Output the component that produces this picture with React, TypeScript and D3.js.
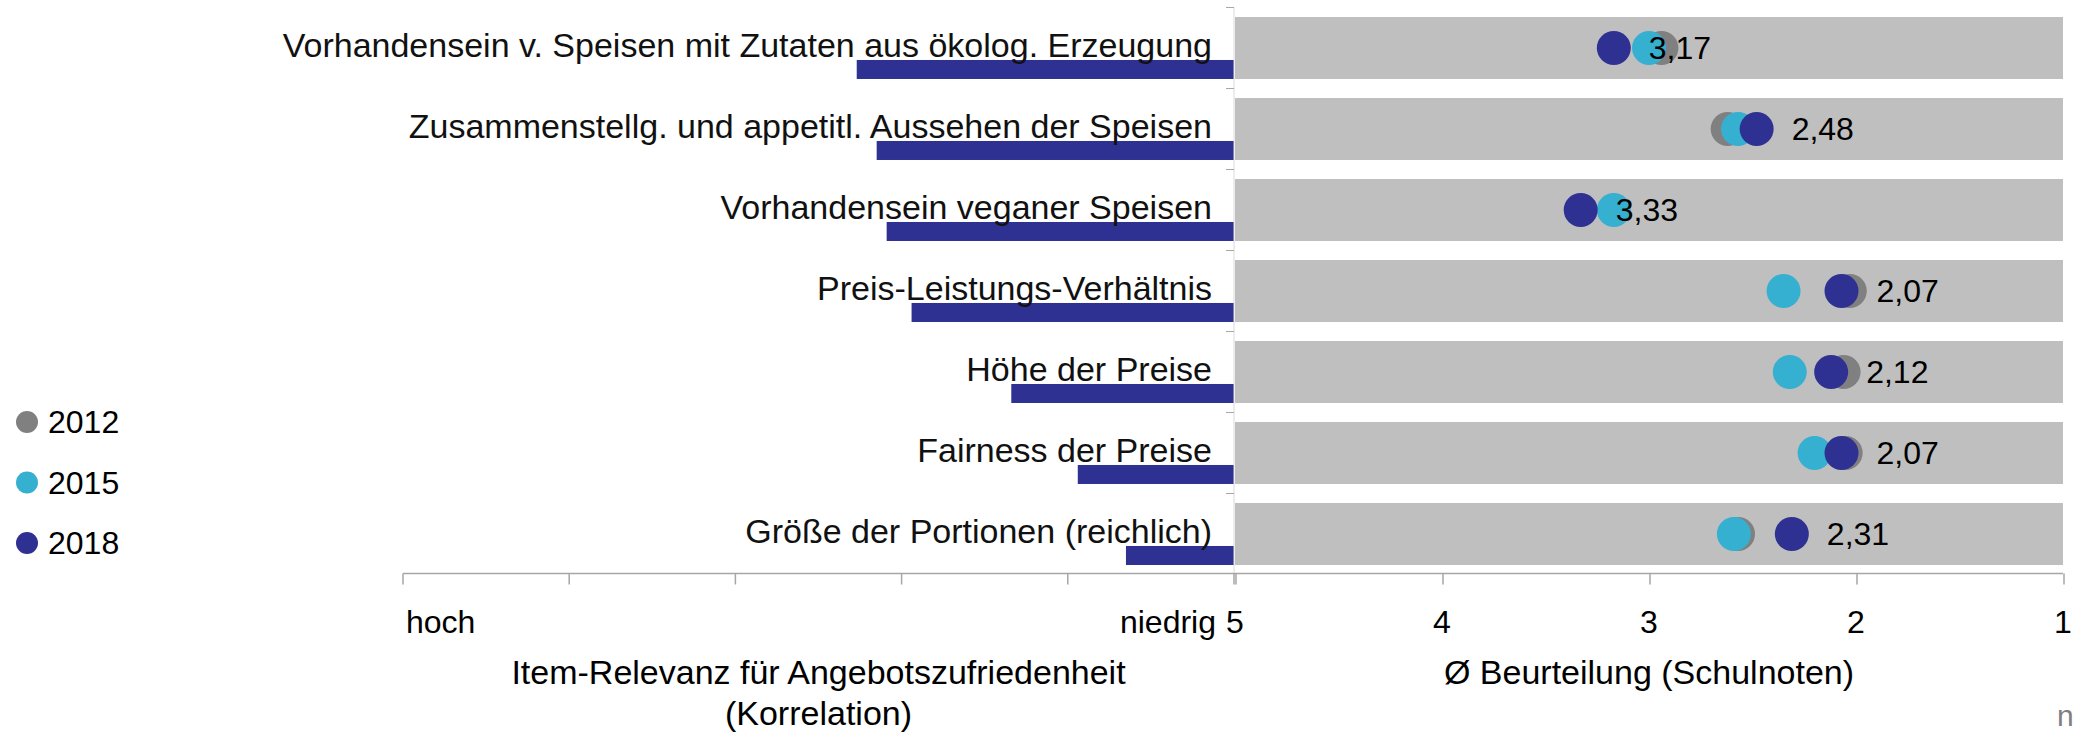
import * as d3 from "d3";

const categories = [
  "Vorhandensein v. Speisen mit Zutaten aus ökolog. Erzeugung",
  "Zusammenstellg. und appetitl. Aussehen der Speisen",
  "Vorhandensein veganer Speisen",
  "Preis-Leistungs-Verhältnis",
  "Höhe der Preise",
  "Fairness der Preise",
  "Größe der Portionen (reichlich)",
];

// Korrelation (Item-Relevanz)
const relevance = [0.227, 0.215, 0.209, 0.194, 0.134, 0.094, 0.065];

// Ø Schulnoten je Erhebungsjahr
const grades2012 = [2.94, 2.62, null, 2.03, 2.06, 2.05, 2.57];
const grades2015 = [3.0, 2.57, 3.17, 2.35, 2.32, 2.2, 2.59];
const grades2018 = [3.17, 2.48, 3.33, 2.07, 2.12, 2.07, 2.31];

const years = ["2012", "2015", "2018"];
const gradeTicks = [5, 4, 3, 2, 1];
const relevanceTicks = [0.5, 0.4, 0.3, 0.2, 0.1, 0];

const W = 2078;
const H = 734;
const FONT = "'Liberation Sans', Arial, sans-serif";
const colors = ["#808080", "#36B0D0", "#2E3192"];

const de = d3.formatLocale({ decimal: ",", thousands: ".", grouping: [3], currency: ["", "€"] });
const fmt = de.format(".2f");

export default function App() {
  const y = d3.scaleBand<string>().domain(categories).range([7.5, 574.5]).paddingInner(0.235).paddingOuter(0.1175);
  const xL = d3.scaleLinear().domain([0.5, 0]).range([403, 1234]);
  const xR = d3.scaleLinear().domain([5, 1]).range([1235, 2063]);
  const axisY = 573.5;
  const series = [grades2012, grades2015, grades2018];
  const color = d3.scaleOrdinal<string, string>().domain(years).range(colors);

  return (
    <div style={{ position: "absolute", left: 0, top: 0 }}>
      <svg width={W} height={H} style={{ display: "block", fontFamily: FONT }}>
        {/* gray bands */}
        {categories.map((c) => (
          <rect key={c} x={xR(5)} y={y(c)} width={xR(1) - xR(5)} height={y.bandwidth()} fill="#BFBFBF" />
        ))}

        {/* relevance bars */}
        {categories.map((c, i) => (
          <rect
            key={c}
            x={xL(relevance[i])}
            y={(y(c) as number) + y.bandwidth() - 19}
            width={xL(0) - xL(relevance[i])}
            height={19}
            fill="#2E3192"
          />
        ))}

        {/* category axis */}
        <line x1={1234} x2={1234} y1={7.5} y2={axisY} stroke="#D9D9D9" />
        {categories.map((c) => (
          <line key={c} x1={1226} x2={1234} y1={(y(c) as number) - 9.5} y2={(y(c) as number) - 9.5} stroke="#A6A6A6" />
        ))}

        {/* labels */}
        {categories.map((c) => (
          <text key={c} x={1212} y={(y(c) as number) + y.bandwidth() / 2 + 9} textAnchor="end" fontSize={34} fill="#111">
            {c}
          </text>
        ))}

        {/* dots */}
        {series.map((s, si) =>
          s.map((v, i) =>
            v == null ? null : (
              <circle
                key={`${si}-${i}`}
                cx={xR(v)}
                cy={(y(categories[i]) as number) + y.bandwidth() / 2}
                r={17}
                fill={color(years[si])}
              />
            )
          )
        )}

        {/* value labels (2018) */}
        {grades2018.map((v, i) => (
          <text key={i} x={xR(v) + 35} y={(y(categories[i]) as number) + y.bandwidth() / 2 + 11} fontSize={32} fill="#000">
            {fmt(v)}
          </text>
        ))}

        {/* bottom axis */}
        <line x1={xL(0.5)} x2={xR(1)} y1={axisY} y2={axisY} stroke="#A6A6A6" strokeWidth={1.5} />
        {relevanceTicks.map((t) => (
          <line key={`l${t}`} x1={xL(t)} x2={xL(t)} y1={axisY} y2={axisY + 11} stroke="#A6A6A6" strokeWidth={1.5} />
        ))}
        {gradeTicks.map((t) => (
          <line key={`r${t}`} x1={xR(t) + 1} x2={xR(t) + 1} y1={axisY} y2={axisY + 11} stroke="#A6A6A6" strokeWidth={1.5} />
        ))}
        {gradeTicks.map((t) => (
          <text key={`rt${t}`} x={xR(t)} y={633} textAnchor="middle" fontSize={32} fill="#000">
            {t}
          </text>
        ))}
        <text x={406} y={633} fontSize={32} fill="#000">hoch</text>
        <text x={1216} y={633} textAnchor="end" fontSize={32} fill="#000">niedrig</text>

        <text x={(xL(0.5) + xL(0)) / 2} y={684} textAnchor="middle" fontSize={34} fill="#000">
          Item-Relevanz für Angebotszufriedenheit
        </text>
        <text x={(xL(0.5) + xL(0)) / 2} y={725} textAnchor="middle" fontSize={34} fill="#000">
          (Korrelation)
        </text>
        <text x={(xR(5) + xR(1)) / 2} y={684} textAnchor="middle" fontSize={34} fill="#000">
          Ø Beurteilung (Schulnoten)
        </text>
        <text x={2057} y={726} fontSize={30} fill="#7F7F7F">n</text>

        {/* legend */}
        {years.map((yr, i) => (
          <g key={yr}>
            <circle cx={27} cy={422 + i * 60.5} r={11} fill={color(yr)} />
            <text x={48} y={433 + i * 60.5} fontSize={32} fill="#000">{yr}</text>
          </g>
        ))}
      </svg>
    </div>
  );
}
